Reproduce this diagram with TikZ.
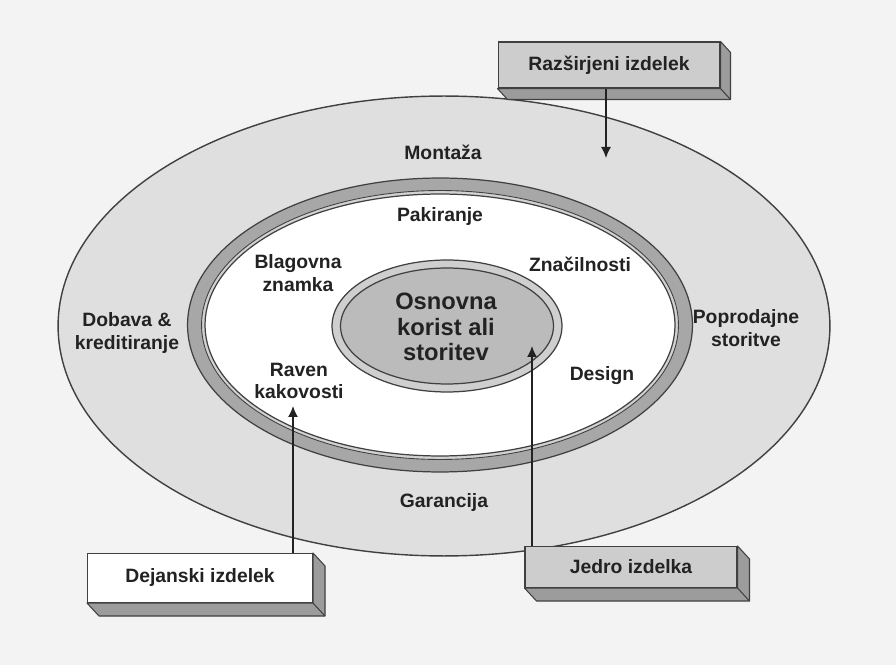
\documentclass[tikz,border=0pt]{standalone}
\usepackage{fontspec}
\setmainfont{Liberation Sans}
\usetikzlibrary{arrows.meta}
\definecolor{paper}{HTML}{F3F3F3}
\definecolor{outergray}{HTML}{DFDFDF}
\definecolor{bandgray}{HTML}{A7A7A7}
\definecolor{bandlight}{HTML}{D2D2D2}
\definecolor{coreouter}{HTML}{CFCFCF}
\definecolor{corefill}{HTML}{BBBBBB}
\definecolor{boxgray}{HTML}{CDCDCD}
\definecolor{sidegray}{HTML}{9C9C9C}
\definecolor{ink}{HTML}{222222}
\definecolor{edge}{HTML}{404040}
\tikzset{
  lbl/.style={font=\bfseries\fontsize{11}{13}\selectfont, align=center, text=ink, inner sep=0pt},
  corelbl/.style={font=\bfseries\fontsize{13.5}{14.6}\selectfont, align=center, text=ink, inner sep=0pt},
  prodbox/.style={draw=edge, line width=0.6pt, inner sep=0pt, font=\bfseries\fontsize{11}{13}\selectfont, text=ink},
  boxside/.style={fill=sidegray, draw=edge, line width=0.6pt, line join=round},
  pointer/.style={draw=ink, line width=0.8pt, -{Latex[length=2.2mm,width=2mm]}}
}
\begin{document}
\begin{tikzpicture}[x=0.02cm,y=-0.02cm]
\useasboundingbox (0,0) rectangle (896,665);
\fill[paper] (0,0) rectangle (896,665);

\filldraw[fill=outergray, draw=edge, line width=0.8pt] (444,326) ellipse [x radius=7.72cm, y radius=4.6cm];
\filldraw[fill=bandgray, draw=edge, line width=0.7pt] (440,325) ellipse [x radius=5.05cm, y radius=2.94cm];
\filldraw[fill=bandlight, draw=edge, line width=0.5pt] (440,325) ellipse [x radius=4.77cm, y radius=2.69cm];
\filldraw[fill=white, draw=edge, line width=0.7pt] (440,325) ellipse [x radius=4.7cm, y radius=2.62cm];
\filldraw[fill=coreouter, draw=edge, line width=0.7pt] (447,326) ellipse [x radius=2.3cm, y radius=1.32cm];
\filldraw[fill=corefill, draw=edge, line width=0.7pt] (447,326) ellipse [x radius=2.13cm, y radius=1.16cm];

\node[corelbl] (osnovna) at (446,327) {Osnovna\\korist ali\\storitev};
\node[lbl] (montaza) at (443,152) {Montaža};
\node[lbl] (pakiranje) at (440,217) {Pakiranje};
\node[lbl] (blagovna) at (298,273) {Blagovna\\znamka};
\node[lbl] (znacilnosti) at (580,264) {Značilnosti};
\node[lbl] (dobava) at (127,333) {Dobava \&\\kreditiranje};
\node[lbl] (poprodajne) at (746,328) {Poprodajne\\storitve};
\node[lbl] (raven) at (299,381) {Raven\\kakovosti};
\node[lbl] (design) at (602,376) {Design};
\node[lbl] (garancija) at (444,503) {Garancija};

\node[prodbox, fill=boxgray, minimum width=4.44cm, minimum height=0.92cm] (razsirjeni) at (609,65) {Razširjeni izdelek};
\node[prodbox, fill=white, minimum width=4.5cm, minimum height=0.98cm] (dejanski) at (200,578) {Dejanski izdelek};
\node[prodbox, fill=boxgray, minimum width=4.24cm, minimum height=0.82cm] (jedro) at (631,567) {Jedro izdelka};

\filldraw[boxside] (razsirjeni.north east) -- ([shift={(10,11)}]razsirjeni.north east) -- ([shift={(10,11)}]razsirjeni.south east) -- ([shift={(10,11)}]razsirjeni.south west) -- (razsirjeni.south west) -- (razsirjeni.south east) -- cycle;
\draw[boxside] (razsirjeni.south east) -- ++(10,11);
\filldraw[boxside] (dejanski.north east) -- ([shift={(12,13)}]dejanski.north east) -- ([shift={(12,13)}]dejanski.south east) -- ([shift={(12,13)}]dejanski.south west) -- (dejanski.south west) -- (dejanski.south east) -- cycle;
\draw[boxside] (dejanski.south east) -- ++(12,13);
\filldraw[boxside] (jedro.north east) -- ([shift={(12,13)}]jedro.north east) -- ([shift={(12,13)}]jedro.south east) -- ([shift={(12,13)}]jedro.south west) -- (jedro.south west) -- (jedro.south east) -- cycle;
\draw[boxside] (jedro.south east) -- ++(12,13);

\coordinate (razsirjenitip) at (606,158);
\coordinate (dejanskitip) at (293,406);
\coordinate (jedrotip) at (532,346);
\draw[pointer] (razsirjeni.south -| razsirjenitip) -- (razsirjenitip);
\draw[pointer] (dejanski.north -| dejanskitip) -- (dejanskitip);
\draw[pointer] (jedro.north -| jedrotip) -- (jedrotip);
\end{tikzpicture}
\end{document}
